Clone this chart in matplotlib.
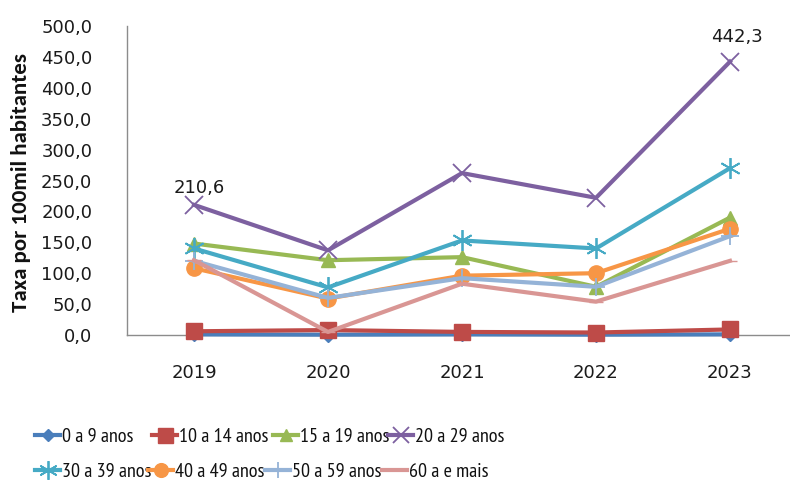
import matplotlib
matplotlib.use("Agg")
import matplotlib.pyplot as plt
from matplotlib.lines import Line2D

years = ["2019", "2020", "2021", "2022", "2023"]
groups = ["0 a 9 anos", "10 a 14 anos", "15 a 19 anos", "20 a 29 anos",
          "30 a 39 anos", "40 a 49 anos", "50 a 59 anos", "60 a e mais"]

rate_0_9 = [1.0, 0.5, 1.0, 0.5, 1.0]
rate_10_14 = [6.0, 8.0, 5.0, 4.0, 9.0]
rate_15_19 = [148.0, 121.0, 126.0, 78.0, 190.0]
rate_20_29 = [210.6, 137.0, 262.0, 222.0, 442.3]
rate_30_39 = [140.0, 77.0, 153.0, 140.0, 270.0]
rate_40_49 = [108.0, 59.0, 96.0, 100.0, 172.0]
rate_50_59 = [120.0, 60.0, 92.0, 78.0, 160.0]
rate_60_plus = [121.0, 5.0, 83.0, 54.0, 120.0]

series = [rate_0_9, rate_10_14, rate_15_19, rate_20_29,
          rate_30_39, rate_40_49, rate_50_59, rate_60_plus]
colors = ["#4a7ebb", "#be4b48", "#98b954", "#7d60a0",
          "#46aac5", "#f79646", "#95b3d7", "#d99694"]
markers = ["D", "s", "^", "x", (6, 2, 0), "o", "+", "_"]
msizes = [7, 12, 10, 13, 15, 11, 13, 10]

yticks = [0, 50, 100, 150, 200, 250, 300, 350, 400, 450, 500]

fig = plt.figure(figsize=(7.9, 4.84), dpi=100)
ax = fig.add_axes([127 / 790, 149 / 484, 670 / 790, 309 / 484])

x = list(range(len(years)))
handles = []
for vals, c, m, ms, lab in zip(series, colors, markers, msizes, groups):
    mew = 1.3 if m in ("x", "+") or isinstance(m, tuple) else 1
    h, = ax.plot(x, vals, color=c, lw=3, marker=m, markersize=ms,
                 markeredgewidth=mew, markeredgecolor=c, label=lab,
                 clip_on=False, zorder=3)
    handles.append(h)

ax.set_xlim(-0.5, 4.5)
ax.set_ylim(0, 500)
ax.set_xticks(x)
ax.set_xticklabels(years)
ax.set_yticks(yticks)
ax.set_yticklabels([f"{v:.1f}".replace(".", ",") for v in yticks])
ax.tick_params(axis="x", length=0, labelsize=13, labelcolor="#1a1a1a", pad=21)
ax.tick_params(axis="y", length=0, labelsize=13, labelcolor="#1a1a1a", pad=25)
for s in ["top", "right"]:
    ax.spines[s].set_visible(False)
for s in ["left", "bottom"]:
    ax.spines[s].set_color("#8c8c8c")
    ax.spines[s].set_linewidth(1)

fig.text(21 / 790, 1 - 183 / 484, "Taxa por 100mil habitantes",
         rotation=90, ha="center", va="center", fontsize=16.5,
         fontweight="bold", family="Carlito", color="#111111")

# value labels at the first and last points of the 20-29 series
for i, (dx, dy) in ((0, (4, 6)), (4, (5, 11))):
    ax.annotate(f"{rate_20_29[i]:.1f}".replace(".", ","), (i, rate_20_29[i]),
                xytext=(dx, dy), textcoords="offset points",
                ha="center", va="bottom", fontsize=13, color="#1a1a1a")

# legend: two rows of four evenly spaced entries
legend_x = [35, 152, 273, 388, 35, 148, 265, 382]
legend_y = [437] * 4 + [472] * 4
for h, lab, lx, ly in zip(handles, groups, legend_x, legend_y):
    proxy = Line2D([], [], color=h.get_color(), lw=3, marker=h.get_marker(),
                   markersize=h.get_markersize() * 0.9,
                   markeredgewidth=h.get_markeredgewidth(),
                   markeredgecolor=h.get_color())
    leg = fig.legend([proxy], [lab], loc="center left",
                     bbox_to_anchor=(lx / 790, 1 - ly / 484), frameon=False,
                     prop={"family": "PT Sans Narrow", "size": 14.5},
                     handlelength=1.25, handletextpad=0.1,
                     borderpad=0, borderaxespad=0)
    for t in leg.get_texts():
        t.set_color("#111111")

fig.savefig("out.png", dpi=100)
